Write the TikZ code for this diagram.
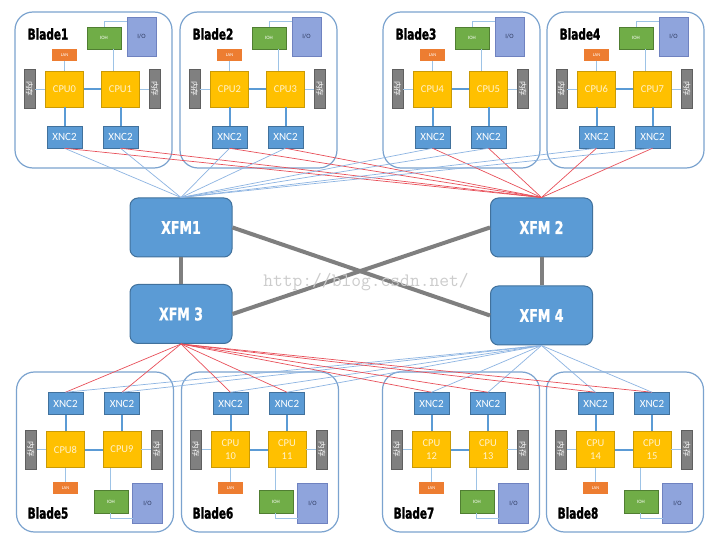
\documentclass[tikz,border=0pt]{standalone}
\usepackage{fontspec}
\usepackage{graphicx}
\setmainfont{Carlito}
\newfontfamily\cjkfont{Noto Sans CJK SC}
\newfontfamily\heavyfont[FakeStretch=0.7,FakeBold=1.6]{DejaVu Sans Bold}
\newfontfamily\xfmfont[FakeStretch=0.72,FakeBold=1.0]{DejaVu Sans Bold}

\definecolor{bladeblue}{HTML}{7BA3CF}
\definecolor{cpufill}{HTML}{FFC000}
\definecolor{cpuedge}{HTML}{C99A06}
\definecolor{cputext}{HTML}{FFF2CC}
\definecolor{xncfill}{HTML}{5B9BD5}
\definecolor{xncedge}{HTML}{41719C}
\definecolor{iohfill}{HTML}{70AD47}
\definecolor{iohedge}{HTML}{507E32}
\definecolor{iofill}{HTML}{8FA4DC}
\definecolor{ioedge}{HTML}{6F82C0}
\definecolor{iotext}{HTML}{2F3B60}
\definecolor{lanfill}{HTML}{ED7D31}
\definecolor{memfill}{HTML}{808080}
\definecolor{memedge}{HTML}{5F5F5F}
\definecolor{thinblue}{HTML}{9DC3E6}
\definecolor{linkblue}{HTML}{8DB4E2}
\definecolor{linkred}{HTML}{E8505A}
\definecolor{crossgray}{HTML}{7F7F7F}

\tikzset{
  bladebox/.style={draw=bladeblue, line width=1.2pt, rounded corners=18pt, minimum width=157pt, minimum height=156pt, inner sep=0pt},
  cpubox/.style={draw=cpuedge, fill=cpufill, line width=0.5pt, minimum width=38pt, minimum height=36pt, inner sep=0pt, text=cputext, font=\fontsize{10.5}{13}\selectfont, align=center},
  xncbox/.style={draw=xncedge, fill=xncfill, line width=0.5pt, minimum width=35pt, minimum height=22pt, inner sep=0pt, text=white, font=\fontsize{11}{12}\selectfont},
  iohbox/.style={draw=iohedge, fill=iohfill, line width=0.5pt, minimum width=34pt, minimum height=22pt, inner sep=0pt, text=white, font=\fontsize{5}{6}\selectfont},
  iobox/.style={draw=ioedge, fill=iofill, line width=0.5pt, minimum width=29pt, minimum height=39pt, inner sep=0pt, text=iotext, font=\fontsize{6.5}{7}\selectfont},
  lanbox/.style={fill=lanfill, minimum width=25pt, minimum height=12pt, inner sep=0pt, text=white, font=\fontsize{4.5}{5}\selectfont},
  membox/.style={draw=memedge, fill=memfill, line width=0.5pt, minimum width=39pt, minimum height=11pt, inner sep=0pt, rotate=-90, text=white, font=\cjkfont\fontsize{7.5}{8}\selectfont},
  xfmbox/.style={draw=xncedge, fill=xncfill, line width=1pt, rounded corners=8pt, minimum width=102pt, minimum height=59pt, inner sep=0pt, text=white, font=\xfmfont\fontsize{17.5}{19}\selectfont},
  bladelabel/.style={font=\heavyfont\fontsize{15}{16}\selectfont, inner sep=0pt, text=black},
  busline/.style={draw=xncfill, line width=2pt},
  thinline/.style={draw=thinblue, line width=0.7pt},
  blueLink/.style={draw=linkblue, line width=0.7pt},
  redLink/.style={draw=linkred, line width=0.7pt},
  crossline/.style={draw=crossgray, line width=4pt},
}

% top blade: #1 id, #2 x, #3 y (top-left of box), #4 label, #5 cpu A, #6 cpu B
\newcommand{\topblade}[6]{%
  \node[bladebox] (#1-box) at ({#2+78.5},{#3+78}) {};
  \coordinate (#1-k) at ({#2+112},{#3+9});
  \coordinate (#1-p) at ({#2+98},{#3+37});
  \node[bladelabel] (#1-lbl) at ({#2+33},{#3+22}) {#4};
  \node[iohbox] (#1-ioh) at ({#2+89},{#3+26}) {IOH};
  \node[iobox] (#1-io) at ({#2+126.5},{#3+24.5}) {I/O};
  \node[lanbox] (#1-lan) at ({#2+49.5},{#3+43}) {LAN};
  \node[cpubox] (#1-ca) at ({#2+49.5},{#3+77}) {#5};
  \node[cpubox] (#1-cb) at ({#2+105.5},{#3+77}) {#6};
  \node[membox] (#1-ml) at ({#2+14.5},{#3+77}) {内存};
  \node[membox] (#1-mr) at ({#2+140},{#3+77}) {内存};
  \node[xncbox] (#1-xa) at ({#2+49.5},{#3+125}) {XNC2};
  \node[xncbox] (#1-xb) at ({#2+105.5},{#3+125}) {XNC2};
  \draw[thinline] (#1-ioh.north) |- (#1-k);
  \draw[thinline] (#1-p) -- (#1-p |- #1-cb.north);
  \draw[thinline] (#1-lan) -- (#1-ca);
  \draw[thinline] (#1-ml) -- (#1-ca);
  \draw[thinline] (#1-mr) -- (#1-cb);
  \draw[busline] (#1-ca) -- (#1-cb);
  \draw[busline] (#1-ca) -- (#1-xa);
  \draw[busline] (#1-cb) -- (#1-xb);
}

% bottom blade
\newcommand{\botblade}[6]{%
  \node[bladebox, minimum height=160pt] (#1-box) at ({#2+78},{#3+80}) {};
  \coordinate (#1-p) at ({#2+93},{#3+96});
  \coordinate (#1-q) at ({#2+93},{#3+141});
  \coordinate (#1-k) at ({#2+116},{#3+146});
  \node[xncbox] (#1-xa) at ({#2+48.5},{#3+31.5}) {XNC2};
  \node[xncbox] (#1-xb) at ({#2+105},{#3+31.5}) {XNC2};
  \node[cpubox] (#1-ca) at ({#2+48.5},{#3+77.5}) {#5};
  \node[cpubox] (#1-cb) at ({#2+105},{#3+77.5}) {#6};
  \node[membox] (#1-ml) at ({#2+14},{#3+77.5}) {内存};
  \node[membox] (#1-mr) at ({#2+140},{#3+77.5}) {内存};
  \node[lanbox] (#1-lan) at ({#2+48.5},{#3+116}) {LAN};
  \node[iohbox, minimum height=23pt] (#1-ioh) at ({#2+94},{#3+129.5}) {IOH};
  \node[iobox, minimum width=30pt, minimum height=40pt] (#1-io) at ({#2+130.5},{#3+131}) {I/O};
  \node[bladelabel] (#1-lbl) at ({#2+31},{#3+141}) {#4};
  \draw[thinline] (#1-p) -- (#1-p |- #1-ioh.north);
  \draw[thinline] (#1-q) |- (#1-k);
  \draw[thinline] (#1-lan) -- (#1-ca);
  \draw[thinline] (#1-ml) -- (#1-ca);
  \draw[thinline] (#1-mr) -- (#1-cb);
  \draw[busline] (#1-ca) -- (#1-cb);
  \draw[busline] (#1-ca) -- (#1-xa);
  \draw[busline] (#1-cb) -- (#1-xb);
}

\begin{document}
\begin{tikzpicture}[x=1pt, y=-1pt]
  \fill[white] (0,0) rectangle (713,540);
  \useasboundingbox (0,0) rectangle (713,540);

  \topblade{b1}{15}{12}{Blade1}{CPU0}{CPU1}
  \topblade{b2}{180}{12}{Blade2}{CPU2}{CPU3}
  \topblade{b3}{383}{12}{Blade3}{CPU4}{CPU5}
  \topblade{b4}{547}{12}{Blade4}{CPU6}{CPU7}

  \botblade{b5}{17}{372}{Blade5}{CPU8}{CPU9}
  \botblade{b6}{182}{372}{Blade6}{CPU\\10}{CPU\\11}
  \botblade{b7}{383}{372}{Blade7}{CPU\\12}{CPU\\13}
  \botblade{b8}{547}{372}{Blade8}{CPU\\14}{CPU\\15}

  \node[xfmbox] (xfm1) at (181,227.5) {XFM1};
  \node[xfmbox] (xfm2) at (541.5,227.5) {XFM 2};
  \node[xfmbox] (xfm3) at (181,314) {XFM 3};
  \node[xfmbox] (xfm4) at (541.5,315.5) {XFM 4};

  \draw[crossline] (xfm1) -- (xfm3);
  \draw[crossline] (xfm2) -- (xfm4);
  \draw[crossline] (xfm1.east) -- (xfm4.west);
  \draw[crossline] (xfm3.east) -- (xfm2.west);

  \foreach \b in {b1,b2,b3,b4}{
    \foreach \s in {xa,xb}{
      \draw[blueLink] (\b-\s.south) -- (xfm1.north);
      \draw[redLink] (\b-\s.south) -- (xfm2.north);
    }
  }
  \foreach \b in {b5,b6,b7,b8}{
    \foreach \s in {xa,xb}{
      \draw[redLink] (\b-\s.north) -- (xfm3.south);
      \draw[blueLink] (\b-\s.north) -- (xfm4.south);
    }
  }

  \node[font=\ttfamily\fontsize{19}{20}\selectfont, text=black!20, inner sep=0pt] (wm) at (366,282) {http://blog.csdn.net/};
\end{tikzpicture}
\end{document}
